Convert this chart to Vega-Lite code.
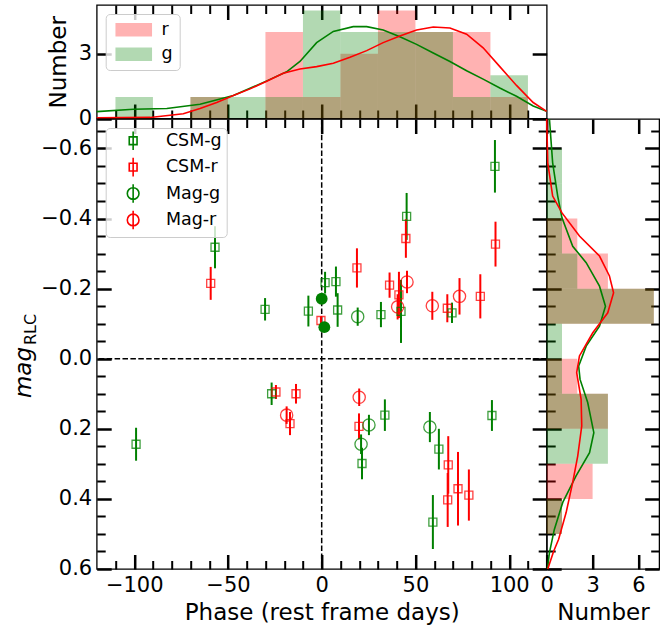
{
"$schema":"https://vega.github.io/schema/vega-lite/v6.json",
"padding":{"left":11.7,"top":3,"right":0,"bottom":2},
"config":{
 "font":"DejaVu Sans",
 "view":{"stroke":"black","strokeWidth":1.3},
 "axis":{"domain":false,"grid":false,"labelFontSize":21,"titleFontSize":23,"titleFontWeight":"normal","labelColor":"black","titleColor":"black","tickColor":"black","labelFlush":false,"labelOverlap":false,"zindex":1}
},
"datasets":{
 "pts":[
  {"phase":-56.9,"mag":-0.318,"err":0.06,"type":"CSM-g"},
  {"phase":-30.2,"mag":-0.141,"err":0.032,"type":"CSM-g"},
  {"phase":-7.1,"mag":-0.136,"err":0.044,"type":"CSM-g"},
  {"phase":1.8,"mag":-0.217,"err":0.031,"type":"CSM-g"},
  {"phase":7.6,"mag":-0.22,"err":0.043,"type":"CSM-g"},
  {"phase":8.5,"mag":-0.139,"err":0.048,"type":"CSM-g"},
  {"phase":31.6,"mag":-0.126,"err":0.036,"type":"CSM-g"},
  {"phase":42.3,"mag":-0.135,"err":0.09,"type":"CSM-g"},
  {"phase":45.3,"mag":-0.406,"err":0.067,"type":"CSM-g"},
  {"phase":69.5,"mag":-0.131,"err":0.029,"type":"CSM-g"},
  {"phase":92.4,"mag":-0.549,"err":0.075,"type":"CSM-g"},
  {"phase":-99,"mag":0.244,"err":0.047,"type":"CSM-g"},
  {"phase":-26.7,"mag":0.1,"err":0.032,"type":"CSM-g"},
  {"phase":21.5,"mag":0.299,"err":0.045,"type":"CSM-g"},
  {"phase":33.7,"mag":0.161,"err":0.045,"type":"CSM-g"},
  {"phase":62.5,"mag":0.258,"err":0.058,"type":"CSM-g"},
  {"phase":59.3,"mag":0.466,"err":0.077,"type":"CSM-g"},
  {"phase":90.8,"mag":0.162,"err":0.044,"type":"CSM-g"},
  {"phase":-59.2,"mag":-0.215,"err":0.047,"type":"CSM-r"},
  {"phase":-0.4,"mag":-0.109,"err":0.012,"type":"CSM-r"},
  {"phase":18.8,"mag":-0.259,"err":0.056,"type":"CSM-r"},
  {"phase":36.2,"mag":-0.21,"err":0.036,"type":"CSM-r"},
  {"phase":41.2,"mag":-0.182,"err":0.066,"type":"CSM-r"},
  {"phase":44.9,"mag":-0.343,"err":0.055,"type":"CSM-r"},
  {"phase":67,"mag":-0.144,"err":0.04,"type":"CSM-r"},
  {"phase":84.6,"mag":-0.178,"err":0.063,"type":"CSM-r"},
  {"phase":92.7,"mag":-0.327,"err":0.064,"type":"CSM-r"},
  {"phase":-24.4,"mag":0.095,"err":0.02,"type":"CSM-r"},
  {"phase":-13.7,"mag":0.1,"err":0.028,"type":"CSM-r"},
  {"phase":-16.9,"mag":0.185,"err":0.033,"type":"CSM-r"},
  {"phase":19.9,"mag":0.193,"err":0.037,"type":"CSM-r"},
  {"phase":67.5,"mag":0.303,"err":0.082,"type":"CSM-r"},
  {"phase":67.2,"mag":0.403,"err":0.077,"type":"CSM-r"},
  {"phase":72.7,"mag":0.371,"err":0.105,"type":"CSM-r"},
  {"phase":78.5,"mag":0.389,"err":0.073,"type":"CSM-r"},
  {"phase":19.2,"mag":-0.12,"err":0.026,"type":"Mag-g"},
  {"phase":21,"mag":0.244,"err":0.028,"type":"Mag-g"},
  {"phase":25.2,"mag":0.189,"err":0.029,"type":"Mag-g"},
  {"phase":57.7,"mag":0.195,"err":0.043,"type":"Mag-g"},
  {"phase":40.5,"mag":-0.148,"err":0.036,"type":"Mag-r"},
  {"phase":45.5,"mag":-0.219,"err":0.032,"type":"Mag-r"},
  {"phase":59,"mag":-0.151,"err":0.04,"type":"Mag-r"},
  {"phase":73.5,"mag":-0.178,"err":0.052,"type":"Mag-r"},
  {"phase":-18.7,"mag":0.161,"err":0.025,"type":"Mag-r"},
  {"phase":20,"mag":0.11,"err":0.025,"type":"Mag-r"}
 ],
 "filled":[{"phase":0,"mag":-0.171},{"phase":1.4,"mag":-0.09}],
 "refs":[{"ref":0}],
 "hx":[
  {"band":"r","lo":-70,"hi":-50,"n":1},{"band":"r","lo":-30,"hi":-10,"n":4},{"band":"r","lo":-10,"hi":10,"n":1},{"band":"r","lo":10,"hi":30,"n":3},{"band":"r","lo":30,"hi":50,"n":5},{"band":"r","lo":50,"hi":70,"n":4},{"band":"r","lo":70,"hi":90,"n":4},{"band":"r","lo":90,"hi":110,"n":1},
  {"band":"g","lo":-110,"hi":-90,"n":1},{"band":"g","lo":-70,"hi":-50,"n":1},{"band":"g","lo":-50,"hi":-30,"n":1},{"band":"g","lo":-30,"hi":-10,"n":1},{"band":"g","lo":-10,"hi":10,"n":5},{"band":"g","lo":10,"hi":30,"n":4},{"band":"g","lo":30,"hi":50,"n":4},{"band":"g","lo":50,"hi":70,"n":4},{"band":"g","lo":70,"hi":90,"n":1},{"band":"g","lo":90,"hi":110,"n":2}
 ],
 "hy":[
  {"band":"r","lo":-0.4,"hi":-0.3,"n":2},{"band":"r","lo":-0.3,"hi":-0.2,"n":4},{"band":"r","lo":-0.2,"hi":-0.1,"n":7},{"band":"r","lo":0,"hi":0.1,"n":2},{"band":"r","lo":0.1,"hi":0.2,"n":4},{"band":"r","lo":0.3,"hi":0.4,"n":3},{"band":"r","lo":0.4,"hi":0.5,"n":1},
  {"band":"g","lo":-0.6,"hi":-0.5,"n":1},{"band":"g","lo":-0.5,"hi":-0.4,"n":1},{"band":"g","lo":-0.4,"hi":-0.3,"n":1},{"band":"g","lo":-0.3,"hi":-0.2,"n":2},{"band":"g","lo":-0.2,"hi":-0.1,"n":7},{"band":"g","lo":-0.1,"hi":0,"n":1},{"band":"g","lo":0,"hi":0.1,"n":1},{"band":"g","lo":0.1,"hi":0.2,"n":4},{"band":"g","lo":0.2,"hi":0.3,"n":4},{"band":"g","lo":0.4,"hi":0.5,"n":1}
 ],
 "kx":[
  {"band":"g","phase":-120,"n":0.32},{"band":"g","phase":-100.4,"n":0.43},{"band":"g","phase":-82.6,"n":0.46},{"band":"g","phase":-64.9,"n":0.66},{"band":"g","phase":-47.1,"n":1.06},{"band":"g","phase":-29.3,"n":1.74},{"band":"g","phase":-18.7,"n":2.16},{"band":"g","phase":-11.6,"n":2.64},{"band":"g","phase":-2.7,"n":3.51},{"band":"g","phase":6.2,"n":4.03},{"band":"g","phase":16.8,"n":4.25},{"band":"g","phase":24,"n":4.25},{"band":"g","phase":32.8,"n":4.09},{"band":"g","phase":41.7,"n":3.78},{"band":"g","phase":50.6,"n":3.43},{"band":"g","phase":59.5,"n":3.03},{"band":"g","phase":68.4,"n":2.64},{"band":"g","phase":77.3,"n":2.21},{"band":"g","phase":86.1,"n":1.82},{"band":"g","phase":95,"n":1.41},{"band":"g","phase":103.9,"n":1.03},{"band":"g","phase":112.8,"n":0.58},{"band":"g","phase":120,"n":0.33},
  {"band":"r","phase":-120,"n":0.03},{"band":"r","phase":-91.5,"n":0.05},{"band":"r","phase":-73.8,"n":0.22},{"band":"r","phase":-64.9,"n":0.46},{"band":"r","phase":-56,"n":0.74},{"band":"r","phase":-47.1,"n":1.06},{"band":"r","phase":-38.2,"n":1.37},{"band":"r","phase":-29.3,"n":1.72},{"band":"r","phase":-20.5,"n":2.09},{"band":"r","phase":-11.6,"n":2.29},{"band":"r","phase":-2.7,"n":2.4},{"band":"r","phase":6.2,"n":2.56},{"band":"r","phase":15.1,"n":2.83},{"band":"r","phase":24,"n":3.14},{"band":"r","phase":32.8,"n":3.51},{"band":"r","phase":41.7,"n":3.82},{"band":"r","phase":50.6,"n":4.09},{"band":"r","phase":59.5,"n":4.23},{"band":"r","phase":68.4,"n":4.19},{"band":"r","phase":77.3,"n":3.9},{"band":"r","phase":86.1,"n":3.27},{"band":"r","phase":95,"n":2.4},{"band":"r","phase":103.9,"n":1.53},{"band":"r","phase":112.8,"n":0.74},{"band":"r","phase":120,"n":0.33}
 ],
 "ky":[
  {"band":"g","mag":-0.684,"n":0.18},{"band":"g","mag":-0.559,"n":0.39},{"band":"g","mag":-0.464,"n":0.72},{"band":"g","mag":-0.402,"n":1.0},{"band":"g","mag":-0.321,"n":1.7},{"band":"g","mag":-0.274,"n":2.58},{"band":"g","mag":-0.207,"n":3.45},{"band":"g","mag":-0.15,"n":3.84},{"band":"g","mag":-0.093,"n":3.45},{"band":"g","mag":-0.036,"n":2.58},{"band":"g","mag":0.021,"n":2.09},{"band":"g","mag":0.059,"n":2.18},{"band":"g","mag":0.125,"n":2.68},{"band":"g","mag":0.211,"n":3.08},{"band":"g","mag":0.268,"n":2.8},{"band":"g","mag":0.334,"n":1.92},{"band":"g","mag":0.41,"n":1.05},{"band":"g","mag":0.487,"n":0.5},{"band":"g","mag":0.553,"n":0.18},{"band":"g","mag":0.6,"n":0.05},
  {"band":"r","mag":-0.684,"n":0.0},{"band":"r","mag":-0.559,"n":0.07},{"band":"r","mag":-0.464,"n":0.39},{"band":"r","mag":-0.416,"n":1.0},{"band":"r","mag":-0.35,"n":2.14},{"band":"r","mag":-0.293,"n":3.45},{"band":"r","mag":-0.236,"n":4.1},{"band":"r","mag":-0.188,"n":4.37},{"band":"r","mag":-0.131,"n":3.99},{"band":"r","mag":-0.074,"n":3.01},{"band":"r","mag":-0.008,"n":2.14},{"band":"r","mag":0.04,"n":1.96},{"band":"r","mag":0.116,"n":2.25},{"band":"r","mag":0.192,"n":2.29},{"band":"r","mag":0.277,"n":2.03},{"band":"r","mag":0.353,"n":1.7},{"band":"r","mag":0.439,"n":1.27},{"band":"r","mag":0.515,"n":0.78},{"band":"r","mag":0.55,"n":0.45},{"band":"r","mag":0.6,"n":0.07}
 ]
},
"spacing":0,
"bounds":"flush",
"resolve":{"scale":{"color":"independent","shape":"independent"},"legend":{"color":"independent","shape":"independent"}},
"vconcat":[
 {
  "width":450,"height":113.5,
  "resolve":{"axis":{"x":"independent","y":"independent"}},
  "layer":[
   {"data":{"name":"hx"},"mark":{"type":"rect","opacity":0.3},
    "encoding":{
     "x":{"field":"lo","type":"quantitative","scale":{"domain":[-120,120],"nice":false,"zero":false},"axis":null},
     "x2":{"field":"hi"},
     "y":{"field":"n","type":"quantitative","scale":{"domain":[0,5.25],"nice":false,"zero":false},"axis":null},
     "y2":{"datum":0},
     "color":{"field":"band","type":"nominal","scale":{"domain":["r","g"],"range":["red","green"]},
      "legend":{"title":null,"orient":"top-left","offset":9,"padding":7,"cornerRadius":4,"strokeColor":"#cccccc","fillColor":"rgba(255,255,255,0.8)","labelFontSize":17.5,"labelColor":"black","symbolSize":144,"symbolType":"M-3.05,-1.11H3.05V1.11H-3.05Z","symbolStrokeWidth":0,"symbolOffset":12.3,"labelOffset":19,"rowPadding":5.5}}
    }},
   {"data":{"name":"kx"},"transform":[{"filter":"datum.band==='g'"}],"mark":{"type":"line","color":"green","strokeWidth":1.6},
    "encoding":{"x":{"field":"phase","type":"quantitative","scale":{"domain":[-120,120],"nice":false,"zero":false},"axis":null},"y":{"field":"n","type":"quantitative","scale":{"domain":[0,5.25],"nice":false,"zero":false},"axis":null}}},
   {"data":{"name":"kx"},"transform":[{"filter":"datum.band==='r'"}],"mark":{"type":"line","color":"red","strokeWidth":1.6},
    "encoding":{"x":{"field":"phase","type":"quantitative","scale":{"domain":[-120,120],"nice":false,"zero":false},"axis":null},"y":{"field":"n","type":"quantitative","scale":{"domain":[0,5.25],"nice":false,"zero":false},"axis":null}}},
   {"data":{"values":[]},"mark":"point",
    "encoding":{"x":{"field":"a","type":"quantitative","scale":{"domain":[-120,120],"nice":false,"zero":false},"axis":{"orient":"bottom","values":[-100,-50,0,50,100],"labels":false,"tickSize":-14.5,"tickWidth":2.5,"title":null}},
     "y":{"field":"b","type":"quantitative","scale":{"domain":[0,5.25],"nice":false,"zero":false},"axis":{"orient":"left","values":[0,3],"format":"d","ticks":false,"labelPadding":5,"title":"Number","titlePadding":8}}}},
   {"data":{"values":[]},"mark":"point",
    "encoding":{"x":{"field":"a","type":"quantitative","scale":{"domain":[-120,120],"nice":false,"zero":false},"axis":{"orient":"bottom","values":[-110,-90,-80,-70,-60,-40,-30,-20,-10,10,20,30,40,60,70,80,90,110],"labels":false,"tickSize":-8.5,"tickWidth":2,"title":null}},
     "y":{"field":"b","type":"quantitative","scale":{"domain":[0,5.25],"nice":false,"zero":false},"axis":{"orient":"left","values":[0,3],"labels":false,"tickSize":-14.5,"tickWidth":2.5,"title":null}}}},
   {"data":{"values":[]},"mark":"point",
    "encoding":{"x":{"field":"a","type":"quantitative","scale":{"domain":[-120,120],"nice":false,"zero":false},"axis":{"orient":"top","values":[-100,-50,0,50,100],"labels":false,"tickSize":-14.5,"tickWidth":2.5,"title":null}},
     "y":{"field":"b","type":"quantitative","scale":{"domain":[0,5.25],"nice":false,"zero":false},"axis":{"orient":"right","values":[0,3],"labels":false,"tickSize":-14.5,"tickWidth":2.5,"title":null}}}},
   {"data":{"values":[]},"mark":"point",
    "encoding":{"x":{"field":"a","type":"quantitative","scale":{"domain":[-120,120],"nice":false,"zero":false},"axis":{"orient":"top","values":[-110,-90,-80,-70,-60,-40,-30,-20,-10,10,20,30,40,60,70,80,90,110],"labels":false,"tickSize":-8.5,"tickWidth":2,"title":null}}}}
  ]
 },
 {
  "hconcat":[
   {
    "width":450,"height":450,
    "resolve":{"axis":{"x":"independent","y":"independent"}},
    "layer":[
     {"data":{"values":[]},"mark":{"type":"point","filled":false,"strokeWidth":1.6,"opacity":1},
      "encoding":{"x":{"field":"phase","type":"quantitative","scale":{"domain":[-120,120],"nice":false,"zero":false},"axis":null},
       "y":{"field":"mag","type":"quantitative","scale":{"domain":[-0.684,0.6],"reverse":true,"nice":false,"zero":false},"axis":null},
       "color":{"field":"type","type":"nominal","scale":{"domain":["CSM-g","CSM-r","Mag-g","Mag-r"],"range":["green","red","green","red"]},
        "legend":{"title":null,"orient":"top-left","offset":9,"padding":4,"cornerRadius":4,"strokeColor":"#cccccc","fillColor":"rgba(255,255,255,0.8)","labelFontSize":17.5,"labelColor":"black","symbolSize":144,"symbolOffset":14.7,"labelOffset":24,"rowPadding":0.4,"symbolStrokeWidth":1.6}},
       "shape":{"field":"type","type":"nominal","scale":{"domain":["CSM-g","CSM-r","Mag-g","Mag-r"],"range":["M-0.65,-0.65H0.65V0.65H-0.65Z M0,-1.55V1.55","M-0.65,-0.65H0.65V0.65H-0.65Z M0,-1.55V1.55","M0.975,0A0.975,0.975,0,1,1,-0.975,0A0.975,0.975,0,1,1,0.975,0Z M0,-1.55V1.55","M0.975,0A0.975,0.975,0,1,1,-0.975,0A0.975,0.975,0,1,1,0.975,0Z M0,-1.55V1.55"]},
        "legend":{"title":null,"orient":"top-left","offset":9,"padding":4,"cornerRadius":4,"strokeColor":"#cccccc","fillColor":"rgba(255,255,255,0.8)","labelFontSize":17.5,"labelColor":"black","symbolSize":144,"symbolOffset":14.7,"labelOffset":24,"rowPadding":0.4,"symbolStrokeWidth":1.6}}}},
     {"data":{"name":"refs"},"mark":{"type":"rule","strokeDash":[5.5,2.4],"strokeWidth":1.5,"color":"black"},
      "encoding":{"x":{"field":"ref","type":"quantitative","scale":{"domain":[-120,120],"nice":false,"zero":false},"axis":null}}},
     {"data":{"name":"refs"},"mark":{"type":"rule","strokeDash":[5.5,2.4],"strokeWidth":1.5,"color":"black"},
      "encoding":{"y":{"field":"ref","type":"quantitative","scale":{"domain":[-0.684,0.6],"reverse":true,"nice":false,"zero":false},"axis":null}}},
     {"data":{"name":"pts"},"transform":[{"filter":"indexof(datum.type,'-g')>0"}],"mark":{"type":"errorbar","thickness":2,"color":"green","rule":{"color":"green","strokeWidth":2}},
      "encoding":{"x":{"field":"phase","type":"quantitative","scale":{"domain":[-120,120],"nice":false,"zero":false},"axis":null},
       "y":{"field":"mag","type":"quantitative","scale":{"domain":[-0.684,0.6],"reverse":true,"nice":false,"zero":false},"axis":null},
       "yError":{"field":"err"}}},
     {"data":{"name":"pts"},"transform":[{"filter":"indexof(datum.type,'-r')>0"}],"mark":{"type":"errorbar","thickness":2,"color":"red","rule":{"color":"red","strokeWidth":2}},
      "encoding":{"x":{"field":"phase","type":"quantitative","scale":{"domain":[-120,120],"nice":false,"zero":false},"axis":null},
       "y":{"field":"mag","type":"quantitative","scale":{"domain":[-0.684,0.6],"reverse":true,"nice":false,"zero":false},"axis":null},
       "yError":{"field":"err"}}},
     {"data":{"name":"pts"},"transform":[{"filter":"datum.type==='CSM-g'"}],"mark":{"type":"point","shape":"square","size":64,"filled":false,"strokeWidth":1.3,"opacity":0.75,"color":"green"},
      "encoding":{"x":{"field":"phase","type":"quantitative","scale":{"domain":[-120,120],"nice":false,"zero":false},"axis":null},
       "y":{"field":"mag","type":"quantitative","scale":{"domain":[-0.684,0.6],"reverse":true,"nice":false,"zero":false},"axis":null}}},
     {"data":{"name":"pts"},"transform":[{"filter":"datum.type==='CSM-r'"}],"mark":{"type":"point","shape":"square","size":64,"filled":false,"strokeWidth":1.3,"opacity":0.75,"color":"red"},
      "encoding":{"x":{"field":"phase","type":"quantitative","scale":{"domain":[-120,120],"nice":false,"zero":false},"axis":null},
       "y":{"field":"mag","type":"quantitative","scale":{"domain":[-0.684,0.6],"reverse":true,"nice":false,"zero":false},"axis":null}}},
     {"data":{"name":"pts"},"transform":[{"filter":"datum.type==='Mag-g'"}],"mark":{"type":"point","shape":"circle","size":150,"filled":false,"strokeWidth":1.3,"opacity":0.75,"color":"green"},
      "encoding":{"x":{"field":"phase","type":"quantitative","scale":{"domain":[-120,120],"nice":false,"zero":false},"axis":null},
       "y":{"field":"mag","type":"quantitative","scale":{"domain":[-0.684,0.6],"reverse":true,"nice":false,"zero":false},"axis":null}}},
     {"data":{"name":"pts"},"transform":[{"filter":"datum.type==='Mag-r'"}],"mark":{"type":"point","shape":"circle","size":150,"filled":false,"strokeWidth":1.3,"opacity":0.75,"color":"red"},
      "encoding":{"x":{"field":"phase","type":"quantitative","scale":{"domain":[-120,120],"nice":false,"zero":false},"axis":null},
       "y":{"field":"mag","type":"quantitative","scale":{"domain":[-0.684,0.6],"reverse":true,"nice":false,"zero":false},"axis":null}}},
     {"data":{"name":"filled"},"mark":{"type":"point","shape":"circle","size":140,"filled":true,"opacity":1,"color":"green"},
      "encoding":{"x":{"field":"phase","type":"quantitative","scale":{"domain":[-120,120],"nice":false,"zero":false},"axis":null},
       "y":{"field":"mag","type":"quantitative","scale":{"domain":[-0.684,0.6],"reverse":true,"nice":false,"zero":false},"axis":null}}},
     {"data":{"values":[]},"mark":"point",
      "encoding":{"x":{"field":"a","type":"quantitative","scale":{"domain":[-120,120],"nice":false,"zero":false},"axis":{"orient":"bottom","values":[-100,-50,0,50,100],"format":"d","ticks":false,"labelPadding":6,"title":"Phase (rest frame days)","titlePadding":6}},
       "y":{"field":"b","type":"quantitative","scale":{"domain":[-0.684,0.6],"reverse":true,"nice":false,"zero":false},"axis":{"orient":"left","values":[-0.6,-0.4,-0.2,0,0.2,0.4,0.6],"format":".1f","ticks":false,"labelPadding":5,"title":"mag","titleFontStyle":"italic","titleAngle":270,"titleX":-66,"titleY":253,"titleAlign":"center","titleBaseline":"alphabetic"}}}},
     {"data":{"values":[]},"mark":"point",
      "encoding":{"x":{"field":"a","type":"quantitative","scale":{"domain":[-120,120],"nice":false,"zero":false},"axis":{"orient":"bottom","values":[-100,-50,0,50,100],"labels":false,"tickSize":-14.5,"tickWidth":2.5,"title":null}},
       "y":{"field":"b","type":"quantitative","scale":{"domain":[-0.684,0.6],"reverse":true,"nice":false,"zero":false},"axis":{"orient":"left","values":[-0.6,-0.4,-0.2,0,0.2,0.4,0.6],"labels":false,"tickSize":-14.5,"tickWidth":2.5,"title":null}}}},
     {"data":{"values":[]},"mark":"point",
      "encoding":{"x":{"field":"a","type":"quantitative","scale":{"domain":[-120,120],"nice":false,"zero":false},"axis":{"orient":"bottom","values":[-110,-90,-80,-70,-60,-40,-30,-20,-10,10,20,30,40,60,70,80,90,110],"labels":false,"tickSize":-8.5,"tickWidth":2,"title":null}},
       "y":{"field":"b","type":"quantitative","scale":{"domain":[-0.684,0.6],"reverse":true,"nice":false,"zero":false},"axis":{"orient":"left","values":[-0.65,-0.55,-0.5,-0.45,-0.35,-0.3,-0.25,-0.15,-0.1,-0.05,0.05,0.1,0.15,0.25,0.3,0.35,0.45,0.5,0.55],"labels":false,"tickSize":-8.5,"tickWidth":2,"title":null}}}},
     {"data":{"values":[]},"mark":"point",
      "encoding":{"x":{"field":"a","type":"quantitative","scale":{"domain":[-120,120],"nice":false,"zero":false},"axis":{"orient":"top","values":[-100,-50,0,50,100],"labels":false,"tickSize":-14.5,"tickWidth":2.5,"title":null}},
       "y":{"field":"b","type":"quantitative","scale":{"domain":[-0.684,0.6],"reverse":true,"nice":false,"zero":false},"axis":{"orient":"right","values":[-0.6,-0.4,-0.2,0,0.2,0.4,0.6],"labels":false,"tickSize":-14.5,"tickWidth":2.5,"title":null}}}},
     {"data":{"values":[]},"mark":"point",
      "encoding":{"x":{"field":"a","type":"quantitative","scale":{"domain":[-120,120],"nice":false,"zero":false},"axis":{"orient":"top","values":[-110,-90,-80,-70,-60,-40,-30,-20,-10,10,20,30,40,60,70,80,90,110],"labels":false,"tickSize":-8.5,"tickWidth":2,"title":null}},
       "y":{"field":"b","type":"quantitative","scale":{"domain":[-0.684,0.6],"reverse":true,"nice":false,"zero":false},"axis":{"orient":"right","values":[-0.65,-0.55,-0.5,-0.45,-0.35,-0.3,-0.25,-0.15,-0.1,-0.05,0.05,0.1,0.15,0.25,0.3,0.35,0.45,0.5,0.55],"labels":false,"tickSize":-8.5,"tickWidth":2,"title":null}}}},
     {"data":{"values":[]},"mark":"point",
      "encoding":{"y":{"field":"b","type":"quantitative","scale":{"domain":[-0.684,0.6],"reverse":true,"nice":false,"zero":false},"axis":{"orient":"left","labels":false,"ticks":false,"title":"RLC","titleFontSize":16,"titleFontStyle":"normal","titleAngle":270,"titleX":-61,"titleY":210,"titleAlign":"center","titleBaseline":"alphabetic"}}}}
    ]
   },
   {
    "width":112.5,"height":450,
    "resolve":{"axis":{"x":"independent","y":"independent"}},
    "layer":[
     {"data":{"name":"hy"},"mark":{"type":"rect","opacity":0.3},
      "encoding":{
       "y":{"field":"lo","type":"quantitative","scale":{"domain":[-0.684,0.6],"reverse":true,"nice":false,"zero":false},"axis":null},
       "y2":{"field":"hi"},
       "x":{"field":"n","type":"quantitative","scale":{"domain":[0,7.35],"nice":false,"zero":false},"axis":null},
       "x2":{"datum":0},
       "color":{"field":"band","type":"nominal","scale":{"domain":["r","g"],"range":["red","green"]},"legend":null}}},
     {"data":{"name":"ky"},"transform":[{"filter":"datum.band==='g'"}],"mark":{"type":"line","color":"green","strokeWidth":1.6},
      "encoding":{"x":{"field":"n","type":"quantitative","scale":{"domain":[0,7.35],"nice":false,"zero":false},"axis":null},"y":{"field":"mag","type":"quantitative","scale":{"domain":[-0.684,0.6],"reverse":true,"nice":false,"zero":false},"axis":null},"order":{"field":"mag","type":"quantitative"}}},
     {"data":{"name":"ky"},"transform":[{"filter":"datum.band==='r'"}],"mark":{"type":"line","color":"red","strokeWidth":1.6},
      "encoding":{"x":{"field":"n","type":"quantitative","scale":{"domain":[0,7.35],"nice":false,"zero":false},"axis":null},"y":{"field":"mag","type":"quantitative","scale":{"domain":[-0.684,0.6],"reverse":true,"nice":false,"zero":false},"axis":null},"order":{"field":"mag","type":"quantitative"}}},
     {"data":{"values":[]},"mark":"point",
      "encoding":{"x":{"field":"a","type":"quantitative","scale":{"domain":[0,7.35],"nice":false,"zero":false},"axis":{"orient":"bottom","values":[0,3,6],"format":"d","ticks":false,"labelPadding":6,"title":"Number","titlePadding":6}},
       "y":{"field":"b","type":"quantitative","scale":{"domain":[-0.684,0.6],"reverse":true,"nice":false,"zero":false},"axis":{"orient":"left","values":[-0.6,-0.4,-0.2,0,0.2,0.4,0.6],"labels":false,"tickSize":-14.5,"tickWidth":2.5,"title":null}}}},
     {"data":{"values":[]},"mark":"point",
      "encoding":{"x":{"field":"a","type":"quantitative","scale":{"domain":[0,7.35],"nice":false,"zero":false},"axis":{"orient":"bottom","values":[0,3,6],"labels":false,"tickSize":-14.5,"tickWidth":2.5,"title":null}},
       "y":{"field":"b","type":"quantitative","scale":{"domain":[-0.684,0.6],"reverse":true,"nice":false,"zero":false},"axis":{"orient":"left","values":[-0.65,-0.55,-0.5,-0.45,-0.35,-0.3,-0.25,-0.15,-0.1,-0.05,0.05,0.1,0.15,0.25,0.3,0.35,0.45,0.5,0.55],"labels":false,"tickSize":-8.5,"tickWidth":2,"title":null}}}},
     {"data":{"values":[]},"mark":"point",
      "encoding":{"x":{"field":"a","type":"quantitative","scale":{"domain":[0,7.35],"nice":false,"zero":false},"axis":{"orient":"top","values":[0,3,6],"labels":false,"tickSize":-14.5,"tickWidth":2.5,"title":null}},
       "y":{"field":"b","type":"quantitative","scale":{"domain":[-0.684,0.6],"reverse":true,"nice":false,"zero":false},"axis":{"orient":"right","values":[-0.6,-0.4,-0.2,0,0.2,0.4,0.6],"labels":false,"tickSize":-14.5,"tickWidth":2.5,"title":null}}}},
     {"data":{"values":[]},"mark":"point",
      "encoding":{"y":{"field":"b","type":"quantitative","scale":{"domain":[-0.684,0.6],"reverse":true,"nice":false,"zero":false},"axis":{"orient":"right","values":[-0.65,-0.55,-0.5,-0.45,-0.35,-0.3,-0.25,-0.15,-0.1,-0.05,0.05,0.1,0.15,0.25,0.3,0.35,0.45,0.5,0.55],"labels":false,"tickSize":-8.5,"tickWidth":2,"title":null}}}}
    ]
   }
  ],
  "spacing":0,
  "bounds":"flush",
  "resolve":{"scale":{"color":"independent","shape":"independent"},"legend":{"color":"independent","shape":"independent"}}
 }
]
}
